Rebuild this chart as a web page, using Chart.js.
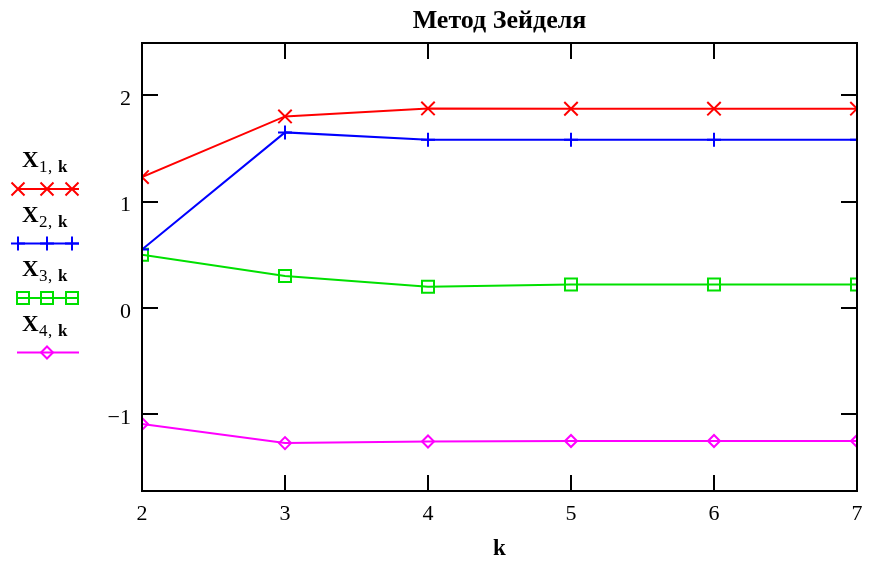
<!DOCTYPE html>
<html>
<head>
<meta charset="utf-8">
<script src="https://cdn.jsdelivr.net/npm/chart.js@4"></script>
<style>
  html, body { margin: 0; padding: 0; background: #fff; }
  #wrap { position: relative; width: 869px; height: 565px; }
</style>
</head>
<body>
<div id="wrap"><canvas id="seidelChart" width="869" height="565"></canvas></div>
<script>
// Iteration numbers and the four unknowns per iteration
var kValues = [2, 3, 4, 5, 6, 7];
var x1 = [1.23, 1.80, 1.875, 1.872, 1.873, 1.873];
var x2 = [0.55, 1.65, 1.58, 1.58, 1.58, 1.58];
var x3 = [0.50, 0.30, 0.20, 0.22, 0.22, 0.22];
var x4 = [-1.09, -1.27, -1.255, -1.25, -1.25, -1.25];
var yTicks = [-1, 0, 1, 2];
var xTicks = [3, 4, 5, 6];

var serif = '"Liberation Serif", "DejaVu Serif", serif';

// Legend entries drawn at the left of the plot
var legendItems = [
    { sub: '1', color: '#ff0000', style: 'crossRot', marks: [18, 47, 72] },
    { sub: '2', color: '#0000ff', style: 'cross', marks: [18, 47, 72] },
    { sub: '3', color: '#00e000', style: 'rect', marks: [23, 47, 72] },
    { sub: '4', color: '#ff00ff', style: 'rectRot', marks: [47] }
];

function drawMark(ctx, style, x, y) {
    ctx.beginPath();
    if (style === 'crossRot') {
        ctx.moveTo(x - 6.5, y - 6.5); ctx.lineTo(x + 6.5, y + 6.5);
        ctx.moveTo(x - 6.5, y + 6.5); ctx.lineTo(x + 6.5, y - 6.5);
    } else if (style === 'cross') {
        ctx.moveTo(x - 7, y); ctx.lineTo(x + 7, y);
        ctx.moveTo(x, y - 7); ctx.lineTo(x, y + 7);
    } else if (style === 'rect') {
        ctx.rect(x - 6, y - 6, 12, 12);
    } else {
        ctx.moveTo(x - 6, y); ctx.lineTo(x, y - 6); ctx.lineTo(x + 6, y); ctx.lineTo(x, y + 6);
        ctx.closePath();
    }
    ctx.stroke();
}

var framePlugin = {
    id: 'frame',
    afterDraw: function(chart) {
        var ctx = chart.ctx;
        var a = chart.chartArea;
        var xs = chart.scales.x, ys = chart.scales.y;
        ctx.save();
        ctx.strokeStyle = '#000';
        ctx.lineWidth = 2;
        ctx.strokeRect(a.left, a.top, a.right - a.left, a.bottom - a.top);

        // inward ticks on all four sides
        ctx.beginPath();
        yTicks.forEach(function(v) {
            var py = Math.round(ys.getPixelForValue(v));
            ctx.moveTo(a.left, py); ctx.lineTo(a.left + 16, py);
            ctx.moveTo(a.right, py); ctx.lineTo(a.right - 16, py);
        });
        xTicks.forEach(function(v) {
            var px = Math.round(xs.getPixelForValue(kValues.indexOf(v)));
            ctx.moveTo(px, a.top); ctx.lineTo(px, a.top + 16);
            ctx.moveTo(px, a.bottom); ctx.lineTo(px, a.bottom - 16);
        });
        ctx.stroke();

        // title
        ctx.fillStyle = '#000';
        ctx.font = 'bold 26px ' + serif;
        ctx.textAlign = 'center';
        ctx.textBaseline = 'alphabetic';
        ctx.fillText('Метод Зейделя', (a.left + a.right) / 2, 28);

        // legend
        ctx.textAlign = 'left';
        legendItems.forEach(function(item, i) {
            var base = 167 + i * 54.5;
            var lineY = base + 22;
            ctx.fillStyle = '#000';
            ctx.font = 'bold 23px ' + serif;
            ctx.fillText('X', 22, base);
            ctx.font = '17px ' + serif;
            ctx.fillText(item.sub, 39, base + 5);
            ctx.fillText(',', 48, base + 5);
            ctx.font = 'bold 17px ' + serif;
            ctx.fillText('k', 58, base + 5);

            ctx.strokeStyle = item.color;
            ctx.lineWidth = 2;
            ctx.beginPath();
            ctx.moveTo(17, lineY); ctx.lineTo(79, lineY);
            ctx.stroke();
            item.marks.forEach(function(mx) { drawMark(ctx, item.style, mx, lineY); });
        });
        ctx.restore();
    }
};

function series(label, data, color, style, radius) {
    return {
        label: label,
        data: data,
        borderColor: color,
        backgroundColor: 'rgba(0,0,0,0)',
        borderWidth: 2,
        pointStyle: style,
        pointRadius: radius,
        pointHoverRadius: radius,
        pointBorderWidth: 2,
        pointBorderColor: color,
        pointBackgroundColor: 'rgba(0,0,0,0)',
        tension: 0,
        fill: false,
        clip: 0
    };
}

new Chart(document.getElementById('seidelChart').getContext('2d'), {
    type: 'line',
    data: {
        labels: kValues,
        datasets: [
            series('X1,k', x1, '#ff0000', 'crossRot', 9.5),
            series('X2,k', x2, '#0000ff', 'cross', 7),
            series('X3,k', x3, '#00e000', 'rect', 8.5),
            series('X4,k', x4, '#ff00ff', 'rectRot', 6)
        ]
    },
    options: {
        responsive: false,
        animation: false,
        layout: { padding: { top: 43, right: 12, left: 0, bottom: 0 } },
        plugins: {
            legend: { display: false },
            title: { display: false },
            tooltip: { enabled: false }
        },
        scales: {
            x: {
                type: 'category',
                offset: false,
                grid: { display: false, drawTicks: false },
                border: { display: false },
                ticks: {
                    color: '#000',
                    font: { family: serif, size: 22 },
                    padding: 10,
                    maxRotation: 0
                },
                title: {
                    display: true,
                    text: 'k',
                    color: '#000',
                    font: { family: serif, size: 23, weight: 'bold' },
                    padding: { top: 0, bottom: 2 }
                },
                afterFit: function(scale) {
                    scale.height = 74;
                    scale.paddingLeft = 0;
                    scale.paddingRight = 0;
                }
            },
            y: {
                min: -1.72,
                max: 2.49,
                grid: { display: false, drawTicks: false },
                border: { display: false },
                afterBuildTicks: function(scale) {
                    scale.ticks = yTicks.map(function(v) { return { value: v }; });
                },
                ticks: {
                    color: '#000',
                    font: { family: serif, size: 22 },
                    padding: 11,
                    labelOffset: 4,
                    callback: function(v) { return v < 0 ? '\u2212' + Math.abs(v) : String(v); }
                },
                afterFit: function(scale) { scale.width = 142; }
            }
        }
    },
    plugins: [framePlugin]
});
</script>
</body>
</html>
